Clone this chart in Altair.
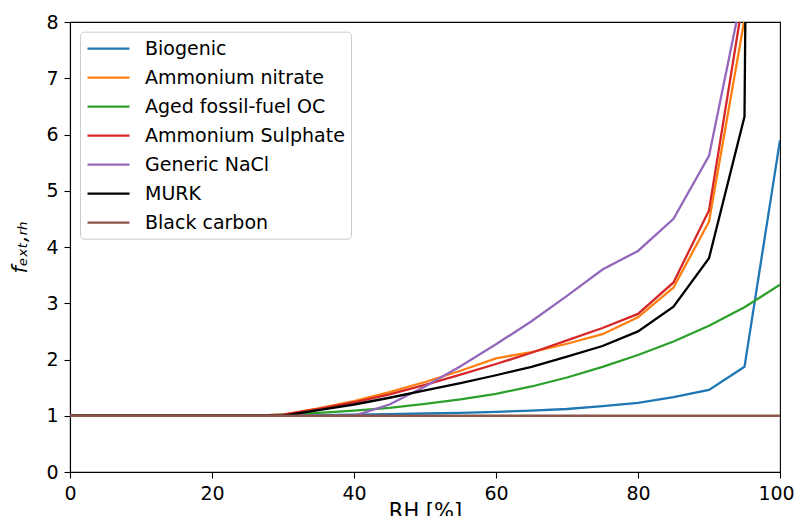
import altair as alt
import pandas as pd

rh = [0, 5, 10, 15, 20, 25, 30, 35, 40, 45, 50, 55, 60, 65, 70, 75, 80, 85, 90, 95, 100]

series_names = ["Biogenic", "Ammonium nitrate", "Aged fossil-fuel OC",
                "Ammonium Sulphate", "Generic NaCl", "MURK", "Black carbon"]
series_colors = ["#1f77b4", "#ff7f0e", "#2ca02c", "#d62728", "#9467bd", "#000000", "#8c564b"]

biogenic = [1.0, 1.0, 1.0, 1.0, 1.0, 1.0, 1.0, 1.01, 1.02, 1.03, 1.04, 1.05, 1.07,
            1.09, 1.12, 1.17, 1.23, 1.33, 1.46, 1.87, 5.9]
ammonium_nitrate = [1.0, 1.0, 1.0, 1.0, 1.0, 1.0, 1.02, 1.13, 1.26, 1.42, 1.6, 1.8, 2.02,
                    2.13, 2.28, 2.45, 2.75, 3.28, 4.45, 8.05, 80.0]
aged_fossil_oc = [1.0, 1.0, 1.0, 1.0, 1.0, 1.0, 1.02, 1.05, 1.09, 1.14, 1.21, 1.29, 1.39,
                  1.52, 1.68, 1.87, 2.08, 2.32, 2.6, 2.93, 3.33]
ammonium_sulphate = [1.0, 1.0, 1.0, 1.0, 1.0, 1.0, 1.02, 1.12, 1.24, 1.38, 1.55, 1.73, 1.92,
                     2.12, 2.34, 2.56, 2.81, 3.37, 4.65, 8.55, 80.0]
generic_nacl = [1.0, 1.0, 1.0, 1.0, 1.0, 1.0, 1.0, 1.0, 1.0, 1.2, 1.52, 1.88, 2.27,
                2.68, 3.13, 3.6, 3.93, 4.5, 5.62, 8.7, 80.0]
murk = [1.0, 1.0, 1.0, 1.0, 1.0, 1.0, 1.0, 1.1, 1.2, 1.32, 1.45, 1.58, 1.72,
        1.87, 2.05, 2.24, 2.5, 2.94, 3.8, 6.32, 80.0]
black_carbon = [1.0, 1.0, 1.0, 1.0, 1.0, 1.0, 1.0, 1.0, 1.0, 1.0, 1.0, 1.0, 1.0,
                1.0, 1.0, 1.0, 1.0, 1.0, 1.0, 1.0, 1.0]

x_ticks = [0, 20, 40, 60, 80, 100]
y_ticks = [0, 1, 2, 3, 4, 5, 6, 7, 8]

all_series = [biogenic, ammonium_nitrate, aged_fossil_oc, ammonium_sulphate,
              generic_nacl, murk, black_carbon]
rows = []
for name, vals in zip(series_names, all_series):
    for x, y in zip(rh, vals):
        rows.append({"RH": x, "f": y, "series": name})
df = pd.DataFrame(rows)

FONT = "DejaVu Sans"

chart = alt.Chart(df).mark_line(strokeWidth=2.3, clip=True).encode(
    x=alt.X("RH:Q",
            scale=alt.Scale(domain=[0, 100], nice=False),
            axis=alt.Axis(values=x_ticks, title="RH [%]", titleFontSize=21,
                          titleFont=FONT, titleFontWeight="normal", titleColor="black",
                          titleY=45, titleBaseline="alphabetic",
                          labelOffset={"condition": {"test": "datum.value == 100", "value": -4},
                                       "value": 0})),
    y=alt.Y("f:Q",
            scale=alt.Scale(domain=[0, 8], nice=False),
            axis=alt.Axis(values=y_ticks, title="fₑₓₜ,ᵣₕ", titleFontSize=21,
                          titleFont=FONT, titleFontWeight="normal", titleColor="black",
                          titleFontStyle="italic", titleAngle=270, titleX=-50, titleY=225,
                          titleAlign="center", titleBaseline="middle")),
    color=alt.Color("series:N",
                    scale=alt.Scale(domain=series_names, range=series_colors),
                    legend=alt.Legend(title=None, orient="none", legendX=10, legendY=9.7,
                                      symbolType="M-1,0H3.42", symbolSize=361,
                                      symbolStrokeWidth=2.3, labelFont=FONT,
                                      labelFontSize=19, labelColor="black",
                                      labelLimit=500,
                                      labelOffset=37, rowPadding=8, padding=6,
                                      strokeColor="#cccccc", cornerRadius=4,
                                      fillColor="rgba(255,255,255,0.8)")),
).properties(
    width=710, height=450,
    padding={"left": 62, "top": 14, "right": 14, "bottom": 44},
    autosize=alt.AutoSizeParams(type="none"),
).configure_axis(
    labelFont=FONT, labelFontSize=19, labelColor="black", labelFlush=False,
    domainColor="black", domainWidth=1.1, tickColor="black", tickWidth=1.1,
    tickSize=6, labelPadding=6, grid=False,
).configure_view(
    stroke="black", strokeWidth=1.1,
)

chart.save("out.html", embed_options={"renderer": "svg", "actions": False})
